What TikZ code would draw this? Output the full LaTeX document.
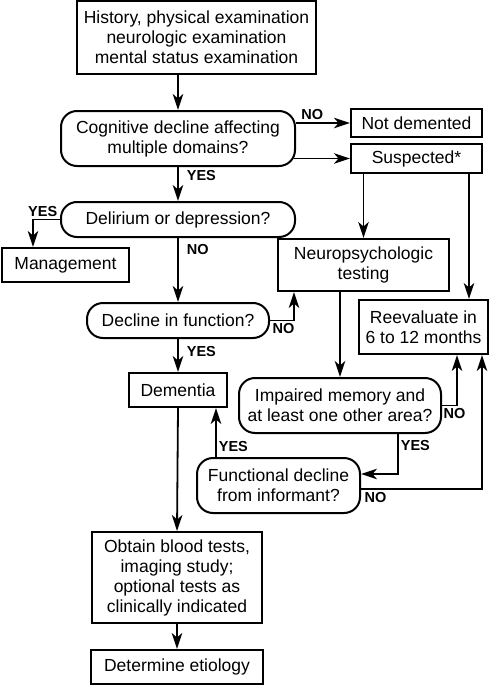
\documentclass[tikz,border=0pt]{standalone}
\usepackage{fontspec}
\setmainfont{Liberation Sans}
\usetikzlibrary{positioning, arrows.meta}

\begin{document}
\begin{tikzpicture}[x=1pt, y=-1pt,
      box/.style={draw, line width=2pt, align=center, inner sep=0pt, font=\fontsize{17.5}{20}\selectfont},
      ask/.style={box, rounded corners=16pt},
      arr/.style={-{Stealth[length=16pt, width=10.5pt, inset=4.5pt]}, line width=1.8pt},
      yn/.style={font=\fontsize{14.5}{14}\selectfont\bfseries, inner sep=2pt}]
      \useasboundingbox (0,0) rectangle (489,685);
      \node[box, minimum width=239pt, minimum height=73pt] (hist)   at (196.5,37.5) {History, physical examination\\neurologic examination\\mental status examination};
      \node[ask, minimum width=234pt, minimum height=55pt] (cog)    at (178,138.5)  {Cognitive decline affecting\\multiple domains?};
      \node[box, minimum width=131pt, minimum height=28pt] (notdem) at (416.5,123)  {Not demented};
      \node[box, minimum width=131pt, minimum height=29pt] (susp)   at (416.5,158.5) {Suspected*};
      \node[ask, minimum width=234pt, minimum height=35pt] (delir)  at (178,219.5)  {Delirium or depression?};
      \node[box, minimum width=127pt, minimum height=34pt] (mgmt)   at (65.5,265)   {Management};
      \node[box, minimum width=171pt, minimum height=52pt] (neuro)  at (363.5,265)  {Neuropsychologic\\testing};
      \node[ask, minimum width=182pt, minimum height=35pt] (decl)   at (178,320.5)  {Decline in function?};
      \node[box, minimum width=129pt, minimum height=54pt] (reeval) at (423.5,327)  {Reevaluate in\\6 to 12 months};
      \node[box, minimum width=98pt,  minimum height=34pt] (dem)    at (178,390)    {Dementia};
      \node[ask, minimum width=202pt, minimum height=55pt] (impair) at (340,405.5)  {Impaired memory and\\at least one other area?};
      \node[ask, minimum width=163pt, minimum height=55pt] (func)   at (278.5,485.5) {Functional decline\\from informant?};
      \node[box, minimum width=170pt, minimum height=91pt] (obtain) at (177,577.5)  {Obtain blood tests,\\imaging study;\\optional tests as\\clinically indicated};
      \node[box, minimum width=172pt, minimum height=34pt] (etio)   at (177,667)    {Determine etiology};

      \draw[arr] (cog.north |- hist.south) -- (cog.north);
      \draw[arr] (cog.east |- notdem.west) -- node[yn, above, pos=0.3]{NO} (notdem.west);
      \draw[arr] ([xshift=-2pt]cog.east |- susp.west) -- (susp.west);
      \draw[arr] (cog.south) -- node[yn, right=6pt, pos=0.25]{YES} (delir.north);
      \draw[arr] (delir.west) -| node[yn, above, pos=0.32]{YES} ([xshift=-32.5pt]mgmt.north);
      \draw[arr] (delir.south) -- node[yn, right=6pt, pos=0.18]{NO} (decl.north);
      \draw[arr] (decl.east) -| node[yn, below, pos=0.28]{NO} ([xshift=-69.5pt]neuro.south);
      \draw[arr] (neuro.north |- susp.south) -- (neuro.north);
      \draw[arr] ([xshift=-14pt]susp.south east) -- ([xshift=-14pt]susp.south east |- reeval.north);
      \draw[arr] (decl.south) -- node[yn, right=6pt, pos=0.38]{YES} (dem.north);
      \draw[arr] (dem.south) -- (obtain.north);
      \draw[arr] (obtain.south) -- (etio.north);
      \draw[arr] (impair.north |- neuro.south) -- (impair.north);
      \draw[arr] (impair.east) -| node[yn, below, pos=0.42]{NO} ([xshift=33.5pt]reeval.south);
      \draw[arr] ([xshift=58pt]impair.south) |- node[yn, right, pos=0.14]{YES} ([yshift=11.5pt]func.east);
      \draw[arr] ([xshift=38pt]dem.south |- func.north) -- node[yn, right, pos=0.22]{YES} ([xshift=38pt]dem.south);
      \draw[arr] ([yshift=-3.5pt]func.east) -| node[yn, below, pos=0.06]{NO} ([xshift=58.5pt]reeval.south);
    \end{tikzpicture}
\end{document}
